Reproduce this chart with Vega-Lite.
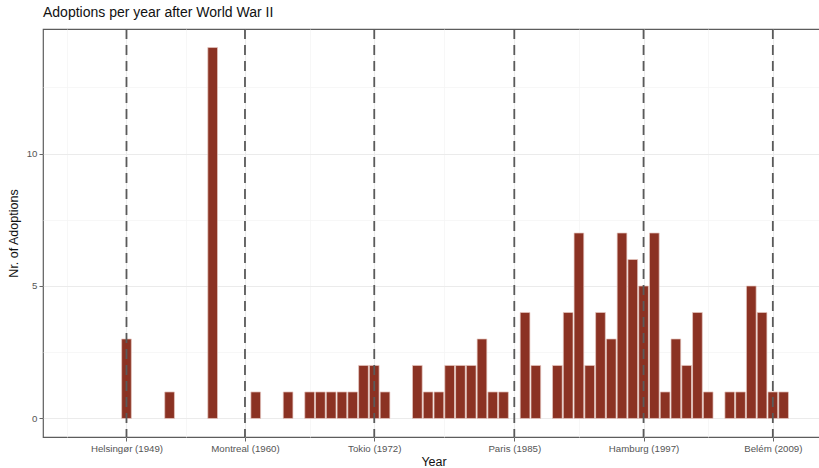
{
  "$schema": "https://vega.github.io/schema/vega-lite/v6.json",
  "width": 781,
  "height": 408,
  "autosize": {"type": "none"},
  "padding": {"left": 43, "top": 29, "right": 0, "bottom": 31},
  "background": "white",
  "title": {
    "text": "Adoptions per year after World War II",
    "anchor": "start",
    "frame": "group",
    "offset": 8,
    "fontSize": 14,
    "fontWeight": "normal",
    "color": "#111111",
    "font": "Liberation Sans"
  },
  "config": {
    "font": "Liberation Sans",
    "view": {"stroke": "#5c5c5c", "strokeWidth": 1.2},
    "axis": {
      "domain": false,
      "tickColor": "#666666",
      "tickSize": 4,
      "labelColor": "#555555",
      "labelFontSize": 9.7,
      "labelPadding": 2,
      "titleColor": "#111111",
      "titleFontSize": 12.5,
      "titleFontWeight": "normal",
      "labelOverlap": false,
      "labelFlush": false
    }
  },
  "datasets": {
    "adoptions": [
      {"year": 1949, "n": 3}, {"year": 1953, "n": 1}, {"year": 1957, "n": 14},
      {"year": 1961, "n": 1}, {"year": 1964, "n": 1}, {"year": 1966, "n": 1},
      {"year": 1967, "n": 1}, {"year": 1968, "n": 1}, {"year": 1969, "n": 1},
      {"year": 1970, "n": 1}, {"year": 1971, "n": 2}, {"year": 1972, "n": 2},
      {"year": 1973, "n": 1}, {"year": 1976, "n": 2}, {"year": 1977, "n": 1},
      {"year": 1978, "n": 1}, {"year": 1979, "n": 2}, {"year": 1980, "n": 2},
      {"year": 1981, "n": 2}, {"year": 1982, "n": 3}, {"year": 1983, "n": 1},
      {"year": 1984, "n": 1}, {"year": 1986, "n": 4}, {"year": 1987, "n": 2},
      {"year": 1989, "n": 2}, {"year": 1990, "n": 4}, {"year": 1991, "n": 7},
      {"year": 1992, "n": 2}, {"year": 1993, "n": 4}, {"year": 1994, "n": 3},
      {"year": 1995, "n": 7}, {"year": 1996, "n": 6}, {"year": 1997, "n": 5},
      {"year": 1998, "n": 7}, {"year": 1999, "n": 1}, {"year": 2000, "n": 3},
      {"year": 2001, "n": 2}, {"year": 2002, "n": 4}, {"year": 2003, "n": 1},
      {"year": 2005, "n": 1}, {"year": 2006, "n": 1}, {"year": 2007, "n": 5},
      {"year": 2008, "n": 4}, {"year": 2009, "n": 1}, {"year": 2010, "n": 1}
    ],
    "cities": [
      {"year": 1949, "city": "Helsingør"},
      {"year": 1960, "city": "Montreal"},
      {"year": 1972, "city": "Tokio"},
      {"year": 1985, "city": "Paris"},
      {"year": 1997, "city": "Hamburg"},
      {"year": 2009, "city": "Belém"}
    ]
  },
  "encoding": {
    "x": {
      "field": "year",
      "type": "quantitative",
      "scale": {"domain": [1941.25, 2013.75], "nice": false, "zero": false, "padding": 0},
      "axis": {
        "title": "Year",
        "titlePadding": 3,
        "grid": true,
        "values": [1943.5, 1949, 1954.5, 1960, 1966, 1972, 1978.5, 1985, 1991, 1997, 2003, 2009],
        "gridColor": {"condition": {"test": "indexof([1949,1960,1972,1985,1997,2009], datum.value) < 0", "value": "#f3f3f3"}, "value": "#ebebeb"},
        "gridWidth": {"condition": {"test": "indexof([1949,1960,1972,1985,1997,2009], datum.value) < 0", "value": 0.7}, "value": 1.1},
        "tickOpacity": {"condition": {"test": "indexof([1949,1960,1972,1985,1997,2009], datum.value) < 0", "value": 0}, "value": 1},
        "labelExpr": "datum.value == 1949 ? 'Helsingør (1949)' : datum.value == 1960 ? 'Montreal (1960)' : datum.value == 1972 ? 'Tokio (1972)' : datum.value == 1985 ? 'Paris (1985)' : datum.value == 1997 ? 'Hamburg (1997)' : datum.value == 2009 ? 'Belém (2009)' : ''"
      }
    }
  },
  "layer": [
    {
      "data": {"name": "adoptions"},
      "mark": {"type": "bar", "width": 9.7, "color": "#8b3223", "stroke": "#e6c9c2", "strokeWidth": 0.7},
      "encoding": {
        "y": {
          "field": "n",
          "type": "quantitative",
          "scale": {"domain": [-0.7, 14.7], "nice": false, "zero": false, "padding": 0},
          "axis": {
            "title": "Nr. of Adoptions",
            "titlePadding": 6,
            "grid": true,
            "values": [0, 2.5, 5, 7.5, 10, 12.5],
            "gridColor": {"condition": {"test": "datum.value % 5 != 0", "value": "#f3f3f3"}, "value": "#ebebeb"},
            "gridWidth": {"condition": {"test": "datum.value % 5 != 0", "value": 0.7}, "value": 1.1},
            "tickOpacity": {"condition": {"test": "datum.value % 5 != 0", "value": 0}, "value": 1},
            "labelExpr": "datum.value % 5 == 0 ? datum.label : ''"
          }
        }
      }
    },
    {
      "data": {"name": "cities"},
      "mark": {"type": "rule", "color": "#5a5a5a", "strokeWidth": 1.8, "strokeDash": [10, 6]},
      "encoding": {}
    }
  ]
}
